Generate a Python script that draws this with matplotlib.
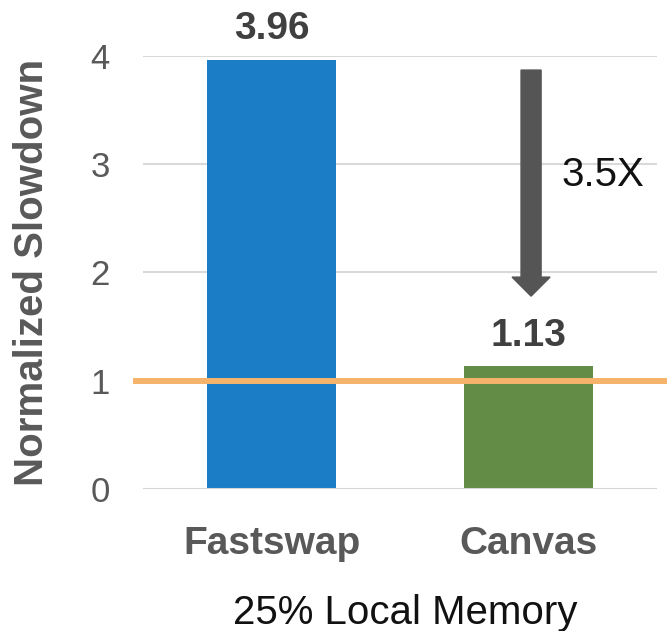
import matplotlib
matplotlib.use("Agg")
import matplotlib.pyplot as plt
from matplotlib.patches import FancyArrow

plt.rcParams['font.family'] = ['Liberation Sans', 'DejaVu Sans']

categories = ["Fastswap", "Canvas"]
slowdown = [3.96, 1.13]
bar_colors = ["#1B7DC5", "#638C46"]
yticks = [0, 1, 2, 3, 4]
baseline = 1.0
speedup_label = "3.5X"

fig = plt.figure(figsize=(6.67, 6.31), dpi=100)
ax = fig.add_axes([143/667, 1 - 488.7/631, (657 - 143)/667, (488.7 - 56)/631])

x = list(range(len(categories)))
bars = ax.bar(x, slowdown, width=0.5, color=bar_colors, zorder=3)

ax.set_xlim(-0.5, 1.5)
ax.set_ylim(0, 4)
ax.set_yticks(yticks)
ax.set_yticklabels([str(t) for t in yticks])
ax.set_xticks(x)
ax.set_xticklabels(categories, fontweight='bold')

for s in ax.spines.values():
    s.set_visible(False)
ax.tick_params(axis='y', length=0, pad=24, labelsize=25, labelcolor='#595959')
ax.tick_params(axis='x', length=0, pad=27, labelsize=28, labelcolor='#595959')

for t in yticks[1:]:
    ax.axhline(t, color='#D9D9D9', lw=1.5, zorder=1)
ax.axhline(0, color='#D4D4D4', lw=2.2, zorder=4)

ax.set_ylabel("Normalized Slowdown", fontsize=29, fontweight='bold', color='#595959', labelpad=28)
fig.text(405/667, 1 - 624/631, "25% Local Memory", fontsize=29, color='#111111',
         ha='center', va='baseline')

# value labels above each bar
for xi, v in zip(x, slowdown):
    ax.annotate(f"{v:.2f}", (xi, v), xytext=(0, 15), textcoords='offset points',
                ha='center', va='baseline', fontsize=28, fontweight='bold', color='#404040')

# reference line at 1x, running past the plot area
ax.plot([-0.54, 1.56], [baseline, baseline], color='#F5B36C', lw=4.3, zorder=5, clip_on=False,
        solid_capstyle='butt')

# speedup arrow from the Fastswap level down to Canvas
arrow_top = 3.87
arrow_tip = 1.78
ax.add_patch(FancyArrow(1.01, arrow_top, 0, arrow_tip - arrow_top, width=0.078,
                        head_width=0.148, head_length=0.176, length_includes_head=True,
                        color='#555555', zorder=6))
ax.text(1.13, 2.9, speedup_label, fontsize=29, color='#111111', ha='left', va='center')

fig.savefig("out.png", dpi=100)
